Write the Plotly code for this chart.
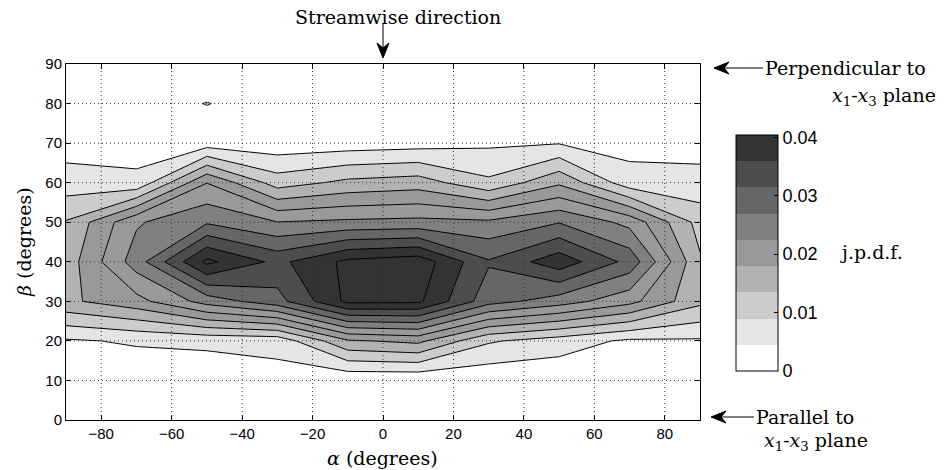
import plotly.graph_objects as go

# ---------------- data ----------------
alpha = [-90, -70, -50, -30, -10, 10, 30, 50, 70, 90]          # degrees
beta = [0, 10, 20, 30, 40, 50, 60, 70, 80, 90]                 # degrees

# joint pdf, rows follow beta, columns follow alpha
jpdf = [
    [0.0000, 0.0000, 0.0000, 0.0000, 0.0000, 0.0000, 0.0000, 0.0000, 0.0000, 0.0000],  # 0
    [0.0010, 0.0010, 0.0010, 0.0025, 0.0006, 0.0005, 0.0008, 0.0010, 0.0010, 0.0010],  # 10
    [0.0035, 0.0045, 0.0050, 0.0053, 0.0155, 0.0170, 0.0085, 0.0060, 0.0033, 0.0035],  # 20
    [0.0152, 0.0186, 0.0257, 0.0305, 0.0410, 0.0408, 0.0296, 0.0260, 0.0213, 0.0130],  # 30
    [0.0138, 0.0260, 0.0410, 0.0349, 0.0410, 0.0425, 0.0324, 0.0385, 0.0307, 0.0125],  # 40
    [0.0123, 0.0235, 0.0275, 0.0241, 0.0248, 0.0252, 0.0248, 0.0278, 0.0228, 0.0105],  # 50
    [0.0058, 0.0048, 0.0199, 0.0101, 0.0130, 0.0140, 0.0088, 0.0153, 0.0056, 0.0054],  # 60
    [0.0022, 0.0025, 0.0020, 0.0014, 0.0018, 0.0023, 0.0033, 0.0038, 0.0026, 0.0024],  # 70
    [0.0010, 0.0025, 0.0041, 0.0025, 0.0010, 0.0010, 0.0015, 0.0020, 0.0015, 0.0010],  # 80
    [0.0000, 0.0000, 0.0010, 0.0000, 0.0000, 0.0000, 0.0000, 0.0000, 0.0000, 0.0000],  # 90
]

x_ticks = [-80, -60, -40, -20, 0, 20, 40, 60, 80]
y_ticks = [0, 10, 20, 30, 40, 50, 60, 70, 80, 90]
cbar_ticks = [0, 0.01, 0.02, 0.03, 0.04]
cbar_labels = ["0", "0.01", "0.02", "0.03", "0.04"]

# contour levels
lev_start, lev_end, lev_size = 0.004, 0.040, 0.004

# grey shades of the colour bar (bottom -> top)
greys = [255, 229, 204, 178, 153, 128, 102, 77, 51]
shade = ["rgb(%d,%d,%d)" % (g, g, g) for g in greys]
# fill colour of each of the 11 contour bands
band_idx = [0, 1, 2, 3, 4, 4, 5, 6, 7, 8, 8]
contour_scale = [[k / 10.0, shade[i]] for k, i in enumerate(band_idx)]

cbar_scale = []
for i, c in enumerate(shade):
    cbar_scale.append([i / 9.0, c])
    cbar_scale.append([(i + 1) / 9.0, c])

# ---------------- figure ----------------
W, H = 946, 470
L, R, T, B = 66, 246, 64, 50
pw, ph = W - L - R, H - T - B


def px2paper(px, py):
    return (px - L) / pw, (H - B - py) / ph


fig = go.Figure()

fig.add_trace(go.Contour(
    x=alpha, y=beta, z=jpdf,
    autocontour=False,
    contours=dict(start=lev_start, end=lev_end, size=lev_size,
                  coloring="fill", showlines=True),
    line=dict(color="black", width=1, smoothing=0),
    colorscale=contour_scale,
    showscale=False,
    hoverinfo="skip",
))

# dummy trace carrying the discrete colour bar
cbx, _ = px2paper(736, 0)
_, cby = px2paper(0, 253)
fig.add_trace(go.Scatter(
    x=[0], y=[-50], mode="markers",
    marker=dict(size=1, color=[0], colorscale=cbar_scale, cmin=0, cmax=0.0404,
                showscale=True,
                colorbar=dict(
                    x=cbx, xanchor="left", xpad=0, y=cby, yanchor="middle", ypad=0,
                    thickness=42, len=236 / ph, lenmode="fraction",
                    outlinewidth=1, outlinecolor="black",
                    tickvals=cbar_ticks, ticktext=cbar_labels,
                    ticks="inside", ticklen=4, tickcolor="black",
                    tickfont=dict(family="Liberation Sans, Arial", size=18, color="black"),
                )),
    hoverinfo="skip", showlegend=False,
))

# dotted grid drawn above the filled contours
grid_style = dict(color="#333333", width=1, dash="1px,3px")
for xv in x_ticks:
    fig.add_shape(type="line", xref="x", yref="y", x0=xv, x1=xv, y0=beta[0], y1=beta[-1],
                  line=grid_style, layer="above")
for yv in y_ticks[1:-1]:
    fig.add_shape(type="line", xref="x", yref="y", x0=alpha[0], x1=alpha[-1], y0=yv, y1=yv,
                  line=grid_style, layer="above")

axis_common = dict(showline=True, linecolor="black", linewidth=1, mirror="ticks",
                   ticks="inside", ticklen=5, tickcolor="black", showgrid=False,
                   zeroline=False, layer="above traces",
                   tickfont=dict(family="Liberation Sans, Arial", size=15, color="black"))
fig.update_xaxes(range=[alpha[0], alpha[-1]], tickvals=x_ticks, **axis_common)
fig.update_yaxes(range=[beta[0], beta[-1]], tickvals=y_ticks, **axis_common)

plane = "<i>x</i><sub>1</sub>-<i>x</i><sub>3</sub> plane"

texts = [
    ("Streamwise direction", 293, 17, "left", 0),
    ("Perpendicular to", 763, 68, "left", 0),
    (plane, 830, 97, "left", 0),
    ("j.p.d.f.", 838, 252, "left", 0),
    ("Parallel to", 754, 417, "left", 0),
    (plane, 762, 441, "left", 0),
    ("<i>α</i> (degrees)", 382, 458, "center", 0),
    ("<i>β</i> (degrees)", 24, 242, "center", -90),
]
for txt, tx, ty, anc, ang in texts:
    ax_, ay_ = px2paper(tx, ty)
    fig.add_annotation(text=txt, x=ax_, y=ay_, xref="paper", yref="paper",
                       xanchor=anc, yanchor="middle", showarrow=False,
                       textangle=ang,
                       font=dict(family="DejaVu Serif", size=19, color="black"))


# arrows drawn as shapes: (tip x, tip y, tail x, tail y) in pixels
def arrow(tx, ty, sx, sy, head_len=15, head_w=6, notch=10):
    dx, dy = sx - tx, sy - ty
    n = (dx * dx + dy * dy) ** 0.5
    ux, uy = dx / n, dy / n            # unit vector tip -> tail
    vx, vy = -uy, ux                   # normal
    x0, y0 = px2paper(sx, sy)
    x1, y1 = px2paper(tx + ux * notch, ty + uy * notch)
    fig.add_shape(type="line", xref="paper", yref="paper", x0=x0, y0=y0, x1=x1, y1=y1,
                  line=dict(color="black", width=1))
    pts = [
        (tx, ty),
        (tx + ux * head_len + vx * head_w, ty + uy * head_len + vy * head_w),
        (tx + ux * notch, ty + uy * notch),
        (tx + ux * head_len - vx * head_w, ty + uy * head_len - vy * head_w),
    ]
    path = ""
    for i, (px, py) in enumerate(pts):
        X, Y = px2paper(px, py)
        path += ("M" if i == 0 else "L") + " %.5f %.5f " % (X, Y)
    path += "Z"
    fig.add_shape(type="path", xref="paper", yref="paper", path=path,
                  fillcolor="black", line=dict(color="black", width=1))


arrow(383, 58, 383, 24)
arrow(714, 68, 763, 68)
arrow(711, 417, 754, 417)

fig.update_layout(
    width=W, height=H,
    margin=dict(l=L, r=R, t=T, b=B),
    paper_bgcolor="white", plot_bgcolor="white",
    showlegend=False,
)

fig.write_html("out.html")
